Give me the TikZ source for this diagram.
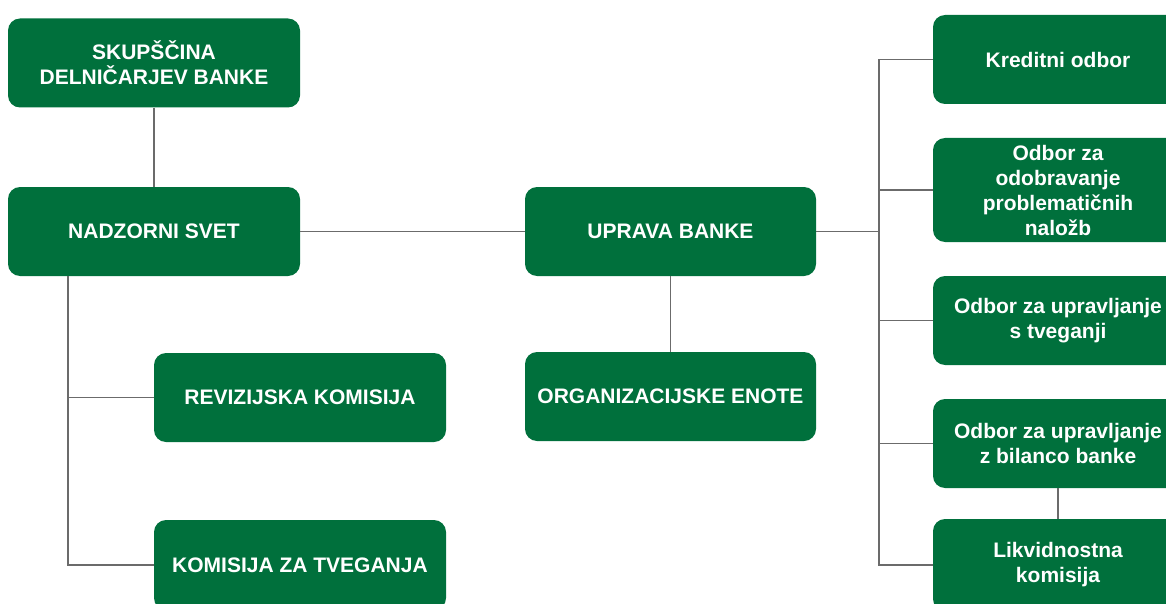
\documentclass[tikz,border=0pt]{standalone}
\usepackage{fontspec}
\setmainfont{Liberation Sans}
\definecolor{boxgreen}{HTML}{00703C}
\definecolor{linegray}{HTML}{6B6B6B}
\begin{document}
\begin{tikzpicture}[x=1pt,y=-1pt,
  box/.style={draw=none,fill=boxgreen,rounded corners=12pt,text=white,
    font=\fontsize{21}{25}\selectfont\bfseries,align=center,inner sep=0pt,
    minimum width=292pt,minimum height=89pt},
  rbox/.style={box,minimum width=250pt},
  conn/.style={draw=linegray,line width=1.8pt}]
\useasboundingbox (0,0) rectangle (1166,604);
\begin{scope}
\clip (0,0) rectangle (1166,604);
\node[box] (sk) at (154,63) {SKUPŠČINA\\DELNIČARJEV BANKE};
\node[box] (ns) at (154,231.5) {NADZORNI SVET};
\node[box,minimum width=291pt] (up) at (670.5,231.5) {UPRAVA BANKE};
\node[box,minimum width=291pt] (oe) at (670.5,396.5) {ORGANIZACIJSKE ENOTE};
\node[box] (rk) at (300,397.5) {REVIZIJSKA KOMISIJA};
\node[box,minimum height=90pt] (kt) at (300,565) {KOMISIJA ZA TVEGANJA};
\node[rbox] (r1) at (1058,59.5) {Kreditni odbor};
\node[rbox,minimum height=104pt] (r2) at (1058,190) {Odbor za\\odobravanje\\problematičnih\\naložb};
\node[rbox] (r3) at (1058,320.5) {Odbor za upravljanje\\s tveganji};
\node[rbox] (r4) at (1058,443.5) {Odbor za upravljanje\\z bilanco banke};
\node[rbox,minimum height=92pt] (r5) at (1058,565) {Likvidnostna\\komisija};
\end{scope}
\coordinate (t1) at (68,276);
\coordinate (t2) at (879,231.5);
\draw[conn] (sk.south) -- (ns.north);
\draw[conn] (ns.east) -- (up.west);
\draw[conn] (up.south) -- (oe.north);
\draw[conn] (t1) |- (rk.west);
\draw[conn] (t1) |- (kt.west);
\draw[conn] (up.east) -- (t2);
\draw[conn] (t2) |- (r1.west);
\draw[conn] (t2) |- (r2.west);
\draw[conn] (t2) |- (r3.west);
\draw[conn] (t2) |- (r4.west);
\draw[conn] (t2) |- (r5.west);
\draw[conn] (r4.south) -- (r5.north);
\end{tikzpicture}
\end{document}
